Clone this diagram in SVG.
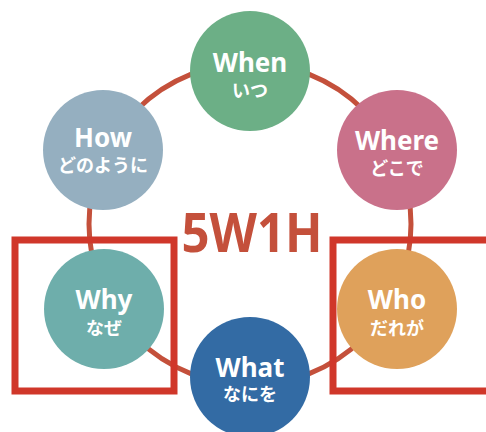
<svg xmlns="http://www.w3.org/2000/svg" width="486" height="432" viewBox="0 0 486 432">
  <style>
    .ring { fill: none; stroke: #c4503b; stroke-width: 5; }
    .frame { fill: none; stroke: #d0372a; stroke-width: 7; }
    .en { font-family: "Noto Sans", "Open Sans", sans-serif; font-weight: 700; font-size: 26px; fill: #ffffff; text-anchor: middle; }
    .jp { font-family: "Noto Sans CJK JP", "Noto Sans", sans-serif; font-weight: 700; font-size: 18px; fill: #ffffff; text-anchor: middle; }
    .title { font-family: "Noto Sans", "Open Sans", sans-serif; font-weight: 700; font-size: 54px; fill: #c4503b; text-anchor: middle; }
  </style>
  <rect width="486" height="432" fill="#ffffff"/>

  <!-- connecting ring -->
  <g id="connectors">
    <circle class="ring" cx="250" cy="224" r="161"/>
  </g>

  <text id="title" class="title" x="252" y="252" textLength="141" lengthAdjust="spacingAndGlyphs">5W1H</text>

  <g id="when">
    <circle cx="250" cy="71" r="60" fill="#6caf86"/>
    <text class="en" x="250" y="72">When</text>
    <text class="jp" x="250" y="97">いつ</text>
  </g>

  <g id="where">
    <circle cx="397" cy="150" r="60" fill="#c9718a"/>
    <text class="en" x="397" y="150">Where</text>
    <text class="jp" x="397" y="175">どこで</text>
  </g>

  <g id="who">
    <circle cx="397" cy="309" r="60" fill="#dfa15b"/>
    <text class="en" x="397" y="309">Who</text>
    <text class="jp" x="397" y="335">だれが</text>
  </g>

  <g id="what">
    <circle cx="250" cy="377" r="60" fill="#336ba4"/>
    <text class="en" x="250" y="377">What</text>
    <text class="jp" x="250" y="401">なにを</text>
  </g>

  <g id="why">
    <circle cx="104" cy="309" r="60" fill="#6eaeab"/>
    <text class="en" x="104" y="309">Why</text>
    <text class="jp" x="104" y="335">なぜ</text>
  </g>

  <g id="how">
    <circle cx="103" cy="150" r="60" fill="#95afc0"/>
    <text class="en" x="103" y="147">How</text>
    <text class="jp" x="103" y="172">どのように</text>
  </g>

  <!-- highlight frames -->
  <g id="frames">
    <rect class="frame" x="15" y="240" width="159" height="151"/>
    <rect class="frame" x="333" y="240" width="170" height="151"/>
  </g>
</svg>
